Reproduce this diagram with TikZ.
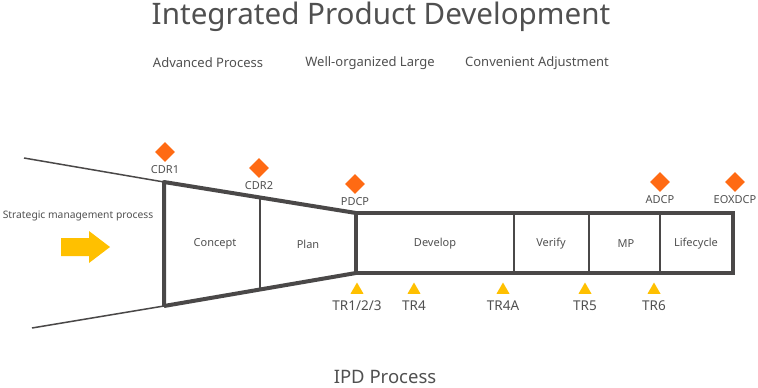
\documentclass[tikz,border=0pt]{standalone}
\usepackage{fontspec}
\setmainfont{Noto Sans}
\usetikzlibrary{positioning,calc,shapes.geometric}

\definecolor{linegray}{HTML}{4A4848}
\definecolor{textgray}{HTML}{505050}
\definecolor{dcporange}{HTML}{FF6A13}
\definecolor{tryellow}{HTML}{FFC000}

\begin{document}
\begin{tikzpicture}[x=1pt,y=-1pt,
	every node/.style={text=textgray,inner sep=0pt},
	dcp/.style={diamond,fill=dcporange,minimum size=20pt},
	tr/.style={regular polygon,regular polygon sides=3,fill=tryellow,minimum size=15pt},
	lbl/.style={font=\fontsize{11}{13}\selectfont},
	trlbl/.style={font=\fontsize{13.5}{16}\selectfont},
	thinline/.style={linegray,line width=1.5pt},
	thickline/.style={linegray,line width=4pt},
	frame/.style={linegray,line width=3.5pt},
	divider/.style={linegray,line width=2pt}]

\useasboundingbox (0,0) rectangle (758,388);

% titles
\node(title) at (381,17) {\fontsize{29.6}{35}\selectfont Integrated Product Development};
\foreach \x/\t in {208/Advanced Process,370/Well-organized Large,537/Convenient Adjustment}{
	\node at (\x,63) {\fontsize{13}{15}\selectfont \t};
}
\node(ipd) at (385,377) {\fontsize{18.5}{22}\selectfont IPD Process};

% funnel
\coordinate(ul) at (24,158);
\coordinate(ll) at (32,328);
\coordinate(c1t) at (164,182);
\coordinate(c1b) at (164,306);
\coordinate(pt) at (356,213);
\coordinate(pb) at (356,273);
\coordinate(c2t) at ($(c1t)!0.5!(pt)$);
\coordinate(c2b) at ($(c1b)!0.5!(pb)$);
\coordinate(re) at (733,273);

\draw[thinline](ul)--(c1t);
\draw[thinline](ll)--(c1b);
\draw[thickline,line join=round](c1b)--(c1t)--(pt);
\draw[thickline](c1b)--(pb);
\draw[divider](c2t)--(c2b);
\draw[frame](pt) rectangle (re);
\foreach \x in {514,589,660}{
	\draw[divider](\x,213)--(\x,273);
}

% phases
\foreach \n/\x/\t in {concept/215/Concept,plan/308/Plan,develop/435/Develop,verify/551/Verify,mp/626/MP,life/696/Lifecycle}{
	\node[lbl](\n) at (\x,244) {\t};
}

% strategic arrow
\node[font=\fontsize{10.3}{12}\selectfont](smp) at (78,216) {Strategic management process};
\fill[tryellow](61,238)--(89,238)--(89,231)--(110,247)--(89,263)--(89,256)--(61,256)--cycle;

% decision checkpoints
\foreach \n/\x/\y/\t in {cdr1/165/152/CDR1,cdr2/259/168/CDR2,pdcp/355/184/PDCP,adcp/660/182/ADCP,eox/735/182/EOXDCP}{
	\node[dcp](\n) at (\x,\y) {};
	\node[lbl](\n l) at (\x,\y+18) {\t};
}

% technical reviews
\foreach \n/\x/\t in {tr1/357/{TR1/2/3},tr4/414/TR4,tr4a/503/TR4A,tr5/585/TR5,tr6/654/TR6}{
	\node[tr](\n) at (\x,290) {};
	\node[trlbl](\n l) at (\x,306) {\t};
}
\end{tikzpicture}
\end{document}
